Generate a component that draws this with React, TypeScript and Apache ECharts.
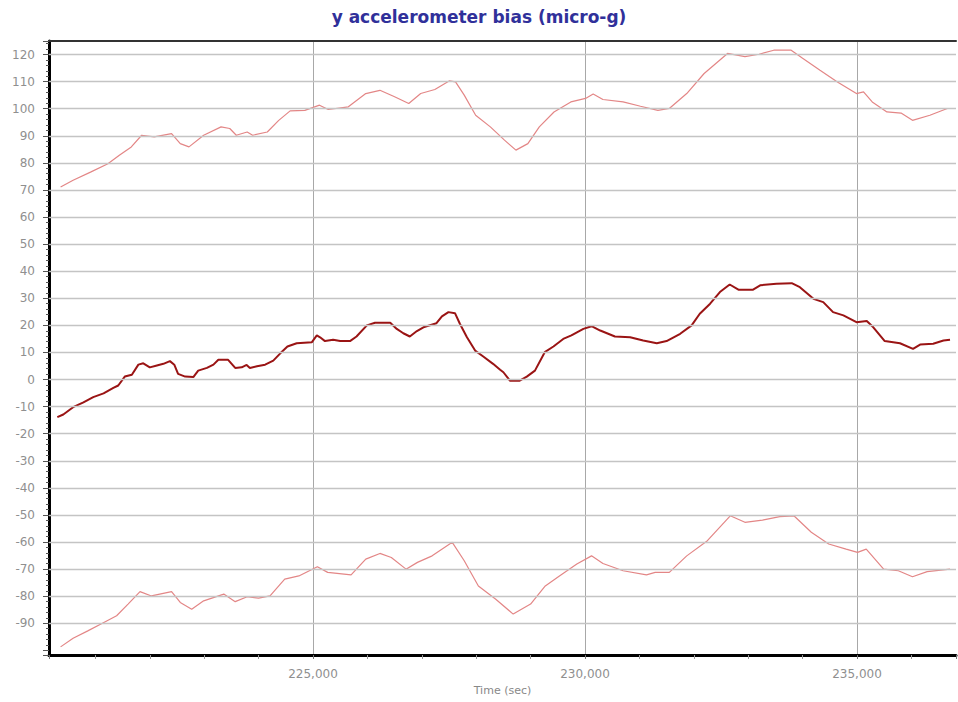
import React, { useEffect, useRef } from "react";
import * as echarts from "echarts";

// Time (sec) and values (micro-g)
const biasT = [220300,220410,220590,220780,220960,221150,221330,221420,221540,221670,221790,221880,222000,222130,222250,222370,222450,222520,222650,222800,222890,223050,223170,223260,223440,223570,223690,223780,223840,223970,224120,224270,224390,224530,224700,224980,225070,225130,225220,225370,225500,225680,225800,225990,226140,226420,226540,226660,226780,226910,227030,227270,227370,227490,227610,227700,227830,227980,228130,228310,228440,228500,228620,228800,228930,229080,229260,229420,229600,229750,229970,230120,230280,230550,230830,231070,231320,231500,231750,231960,232110,232300,232480,232660,232820,233090,233220,233520,233800,233950,234200,234380,234560,234750,234990,235180,235300,235510,235790,236030,236160,236400,236590,236710];
const biasV = [-13.9,-12.9,-10.2,-8.4,-6.5,-5.1,-3.1,-2.2,1.1,1.8,5.5,6.0,4.5,5.2,5.8,6.8,5.5,2.1,1.1,0.9,3.3,4.3,5.5,7.3,7.3,4.3,4.5,5.4,4.3,4.9,5.5,7.0,9.5,12.2,13.4,13.8,16.3,15.6,14.2,14.7,14.2,14.2,15.9,20.0,21.0,21.0,18.7,17.1,15.9,17.9,19.3,20.8,23.3,24.9,24.5,20.6,15.6,10.7,8.5,5.8,3.6,2.7,-0.4,-0.4,1.1,3.3,10.1,12.2,15.0,16.3,18.7,19.7,18.1,15.9,15.6,14.4,13.4,14.2,16.9,20.0,24.3,28.0,32.3,35.1,33.2,33.2,34.8,35.4,35.6,34.1,29.8,28.6,24.9,23.7,21.2,21.6,19.3,14.2,13.4,11.3,12.9,13.2,14.4,14.7];

const upperT = [220360,220590,220910,221230,221440,221660,221850,222080,222400,222560,222720,222990,223310,223470,223590,223790,223890,224160,224370,224580,224850,225120,225280,225650,225970,226230,226500,226760,226980,227240,227510,227620,227780,227990,228260,228520,228730,228950,229160,229430,229740,230010,230150,230330,230700,231020,231340,231550,231870,232190,232620,232940,233200,233470,233790,234000,234320,234640,234990,235120,235280,235550,235810,236020,236340,236660];
const upperV = [71.1,73.6,76.6,79.7,82.8,85.9,90.2,89.6,90.8,87.1,85.9,90.2,93.3,92.7,90.2,91.4,90.2,91.4,95.7,99.2,99.4,101.3,99.7,100.7,105.6,106.8,104.4,101.9,105.6,107.1,110.3,109.9,105.0,97.6,93.3,88.4,84.7,87.1,93.3,98.8,102.5,103.8,105.4,103.4,102.5,100.9,99.4,100.1,105.6,113.0,120.4,119.2,120.1,121.6,121.6,118.6,114.2,109.9,105.6,106.2,102.5,98.8,98.4,95.7,97.6,100.1];

const lowerT = [220360,220590,220860,221120,221390,221600,221820,222030,222400,222560,222770,222990,223360,223570,223790,224000,224210,224480,224740,225080,225270,225700,225970,226230,226440,226710,226920,227190,227560,227780,228040,228360,228680,229000,229270,229530,229850,230120,230330,230700,231130,231290,231550,231870,232250,232670,232940,233260,233580,233840,234160,234480,234800,235010,235170,235490,235760,236020,236290,236710];
const lowerV = [-98.7,-95.5,-92.8,-90.1,-87.2,-82.9,-78.3,-79.9,-78.3,-82.3,-84.8,-81.7,-79.2,-82.0,-80.2,-80.7,-79.9,-73.7,-72.5,-69.1,-71.2,-72.1,-66.3,-64.2,-65.7,-70.0,-67.5,-65.1,-60.1,-66.9,-76.2,-81.1,-86.6,-82.9,-76.2,-72.5,-68.1,-65.1,-67.9,-70.6,-72.1,-71.2,-71.2,-65.1,-59.5,-50.3,-52.7,-51.9,-50.6,-50.3,-56.4,-60.7,-62.6,-63.8,-62.6,-70.0,-70.6,-72.8,-70.9,-70.0];

const yGridValues = [-90,-80,-70,-60,-50,-40,-30,-20,-10,0,10,20,30,40,50,60,70,80,90,100,110,120];
const xMin = 220147;
const xMax = 236820;
const yMin = -101.7;
const yMax = 125;

const zip = (t: number[], v: number[]) => t.map((x, i) => [x, v[i]]);

export default function App() {
  const ref = useRef<HTMLDivElement>(null);
  useEffect(() => {
    if (!ref.current) return;
    const chart = echarts.init(ref.current, undefined, { renderer: "svg" });
    const labelColor = "#8f8f8f";
    chart.setOption({
      animation: false,
      backgroundColor: "#ffffff",
      title: {
        text: "y accelerometer bias (micro-g)",
        left: "center",
        top: 3,
        textStyle: { fontFamily: "DejaVu Sans", fontSize: 17, fontWeight: "bold", color: "#30309a" },
      },
      grid: { left: 49, right: 2, top: 41, bottom: 47, containLabel: false },
      xAxis: [
        {
          type: "value",
          min: xMin,
          max: xMax,
          splitNumber: 3,
          minInterval: 5000,
          maxInterval: 5000,
          name: "Time (sec)",
          nameLocation: "middle",
          nameGap: 30,
          nameTextStyle: { fontFamily: "DejaVu Sans", fontSize: 11, color: "#888" },
          axisLine: { show: true, onZero: false, lineStyle: { color: "#000", width: 3 } },
          axisTick: { show: true, length: 4, lineStyle: { color: "#777", width: 1 } },
          minorTick: { show: true, splitNumber: 5, length: 4, lineStyle: { color: "#999", width: 1 } },
          axisLabel: {
            showMinLabel: false,
            showMaxLabel: false,
            margin: 13,
            fontFamily: "DejaVu Sans",
            fontSize: 12,
            color: labelColor,
            formatter: (v: number) => v.toLocaleString("en-US"),
          },
          splitLine: { show: true, showMinLine: false, showMaxLine: false, lineStyle: { color: "#a8a8a8", width: 1 } },
        },
        {
          type: "value",
          position: "top",
          min: xMin,
          max: xMax,
          axisLine: { show: true, onZero: false, lineStyle: { color: "#333", width: 2 } },
          axisTick: { show: false },
          axisLabel: { show: false },
          splitLine: { show: false },
        },
      ],
      yAxis: {
        type: "value",
        min: yMin,
        max: yMax,
        splitNumber: 23,
        minInterval: 10,
        maxInterval: 10,
        axisLine: { show: true, onZero: false, lineStyle: { color: "#000", width: 3 } },
        axisTick: { show: true, length: 6, lineStyle: { color: "#555", width: 1 } },
        minorTick: { show: true, splitNumber: 5, length: 3, lineStyle: { color: "#555", width: 1 } },
        axisLabel: {
          showMinLabel: false,
          showMaxLabel: false,
          margin: 14,
          fontFamily: "DejaVu Sans",
          fontSize: 12,
          color: labelColor,
          formatter: (v: number) => (v < -95 || v > 122 ? "" : String(v)),
        },
        splitLine: { show: false },
      },
      series: [
        {
          type: "line",
          name: "grid",
          data: [],
          z: 1,
          silent: true,
          markLine: {
            silent: true,
            symbol: ["none", "none"],
            label: { show: false },
            lineStyle: { color: "#c4c4c4", width: 1.3, type: "solid" },
            data: yGridValues.map((v) => ({ yAxis: v })),
          },
        },
        {
          type: "line",
          name: "upper",
          data: zip(upperT, upperV),
          showSymbol: false,
          z: 3,
          lineStyle: { color: "#e38686", width: 1.2 },
        },
        {
          type: "line",
          name: "lower",
          data: zip(lowerT, lowerV),
          showSymbol: false,
          z: 3,
          lineStyle: { color: "#e38686", width: 1.2 },
        },
        {
          type: "line",
          name: "bias",
          data: zip(biasT, biasV),
          showSymbol: false,
          z: 4,
          lineStyle: { color: "#9a1414", width: 2 },
        },
      ],
    });
    return () => chart.dispose();
  }, []);
  return (
    <div
      ref={ref}
      style={{ position: "fixed", left: 0, top: 0, width: 958, height: 702, background: "#fff" }}
    />
  );
}
